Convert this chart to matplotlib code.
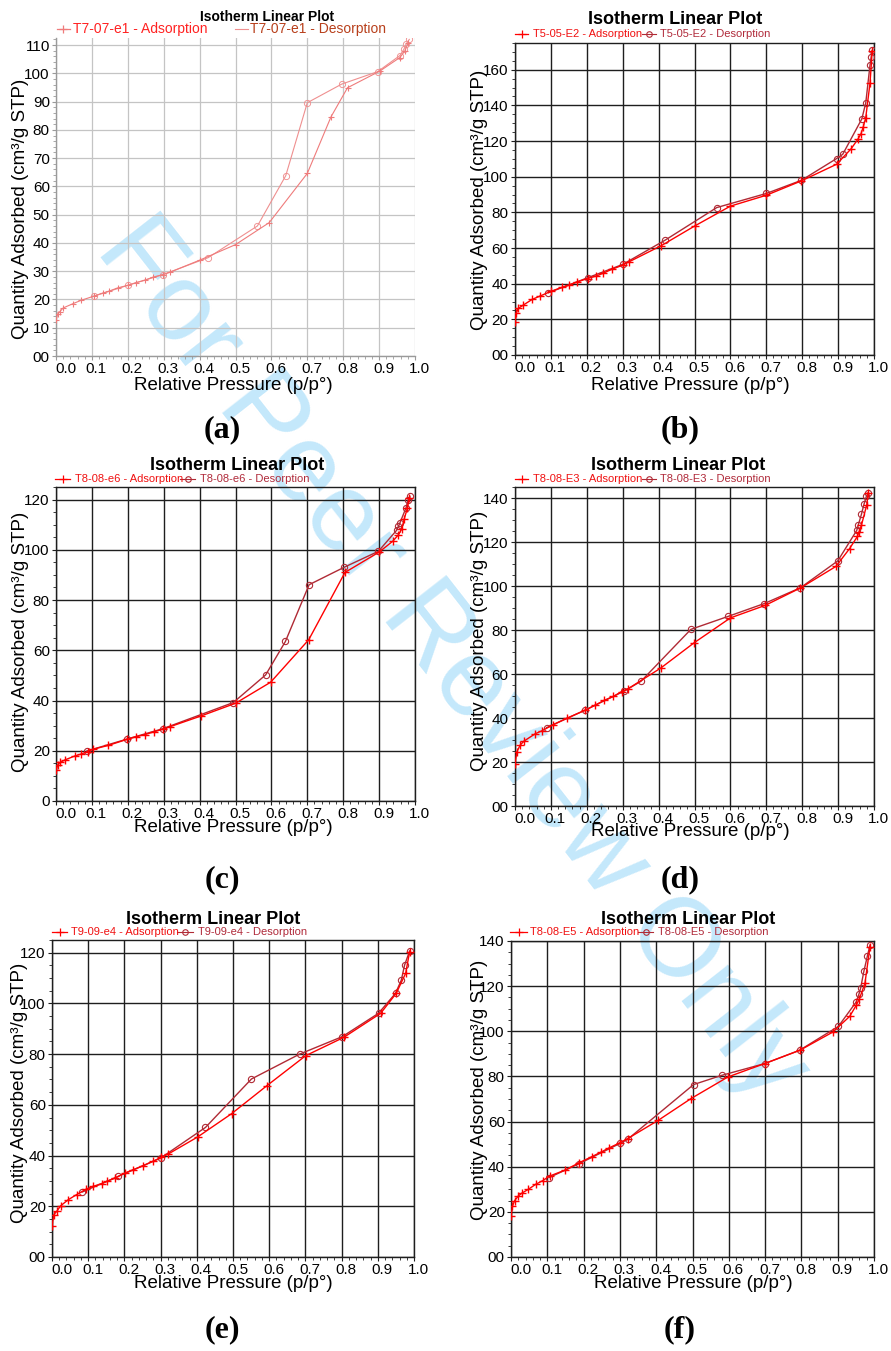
import matplotlib.pyplot as plt
import matplotlib.transforms as mtransforms
from matplotlib.lines import Line2D
from matplotlib.ticker import MultipleLocator

plt.rcParams['font.family'] = ['Liberation Sans', 'DejaVu Sans']

# ---- isotherm data (p/p0 , cm3/g STP) ----
# (a) T7-07-e1
a_ads_p = [0.0, 0.005, 0.01, 0.02, 0.047, 0.07, 0.106, 0.131, 0.149, 0.172, 0.2, 0.224, 0.247, 0.27,
           0.298, 0.317, 0.4, 0.5, 0.594, 0.7, 0.766, 0.812, 0.902, 0.958, 0.972, 0.981]
a_ads_q = [12.6, 15.0, 15.6, 17.0, 18.5, 19.7, 21.2, 22.3, 23.0, 24.1, 25.0, 26.0, 26.8, 27.9,
           28.8, 29.6, 33.9, 39.4, 47.2, 64.6, 84.6, 94.9, 100.8, 105.6, 108.0, 110.8]
a_des_p = [0.984, 0.975, 0.969, 0.958, 0.896, 0.796, 0.7, 0.64, 0.561, 0.424, 0.298, 0.2, 0.106]
a_des_q = [112.0, 110.3, 108.5, 106.3, 100.6, 96.2, 89.6, 63.8, 46.0, 34.8, 28.8, 25.0, 21.2]

# (b) T5-05-E2
b_ads_p = [0.0, 0.003, 0.009, 0.023, 0.048, 0.069, 0.1, 0.13, 0.151, 0.172, 0.202, 0.225, 0.246, 0.269,
           0.3, 0.318, 0.408, 0.5, 0.6, 0.7, 0.797, 0.896, 0.936, 0.955, 0.964, 0.97, 0.977, 0.989, 0.995]
b_ads_q = [18.5, 23.3, 26.1, 28.0, 31.2, 33.0, 35.7, 37.9, 39.2, 40.9, 42.9, 44.2, 45.9, 48.0,
           50.4, 52.3, 61.4, 72.3, 83.5, 89.6, 97.6, 107.0, 115.6, 121.0, 124.2, 127.9, 133.1, 152.7, 170.5]
b_des_p = [0.995, 0.992, 0.989, 0.977, 0.966, 0.913, 0.896, 0.798, 0.7, 0.562, 0.418, 0.3, 0.202, 0.093]
b_des_q = [170.8, 167.1, 162.8, 141.3, 132.4, 112.6, 110.2, 98.0, 90.6, 82.7, 64.4, 50.8, 43.3, 34.9]

# (c) T8-08-e6
c_ads_p = [0.0, 0.005, 0.012, 0.024, 0.052, 0.07, 0.089, 0.103, 0.145, 0.199, 0.224, 0.247, 0.272, 0.298,
           0.318, 0.405, 0.5, 0.598, 0.704, 0.805, 0.9, 0.938, 0.954, 0.963, 0.97, 0.979, 0.984]
c_ads_q = [12.4, 14.4, 15.4, 16.3, 17.9, 18.7, 19.7, 20.6, 22.1, 24.6, 25.6, 26.4, 27.5, 28.6,
           29.6, 33.9, 38.9, 47.3, 64.2, 91.0, 99.1, 103.4, 106.0, 108.3, 112.3, 116.7, 120.7]
c_des_p = [0.986, 0.981, 0.975, 0.958, 0.954, 0.949, 0.898, 0.802, 0.705, 0.639, 0.584, 0.494, 0.298, 0.199, 0.086]
c_des_q = [121.3, 120.0, 116.7, 110.7, 109.4, 107.8, 99.4, 93.0, 86.1, 63.5, 50.2, 39.2, 28.8, 24.7, 19.9]

# (d) T8-08-E3
d_ads_p = [0.0, 0.005, 0.014, 0.025, 0.057, 0.074, 0.107, 0.146, 0.195, 0.223, 0.248, 0.274, 0.297,
           0.315, 0.406, 0.499, 0.6, 0.697, 0.795, 0.894, 0.932, 0.954, 0.958, 0.965, 0.98, 0.984]
d_ads_q = [19.2, 24.5, 27.6, 29.5, 32.9, 34.1, 37.0, 40.0, 43.5, 45.8, 48.0, 49.8, 52.0,
           53.3, 62.7, 74.2, 85.5, 91.2, 99.1, 108.9, 117.0, 122.6, 124.5, 127.6, 137.0, 142.3]
d_des_p = [0.984, 0.979, 0.972, 0.965, 0.956, 0.952, 0.899, 0.795, 0.694, 0.594, 0.49, 0.351, 0.305, 0.194, 0.088]
d_des_q = [142.4, 140.8, 137.1, 132.6, 127.6, 125.3, 111.4, 99.2, 92.0, 86.2, 80.3, 56.7, 52.3, 43.5, 35.6]

# (e) T9-09-e4
e_ads_p = [0.0, 0.005, 0.013, 0.024, 0.045, 0.068, 0.095, 0.112, 0.137, 0.151, 0.174, 0.201, 0.224,
           0.252, 0.278, 0.302, 0.321, 0.402, 0.496, 0.594, 0.701, 0.806, 0.908, 0.951, 0.977, 0.988]
e_ads_q = [12.1, 16.7, 18.0, 20.2, 22.6, 24.6, 26.8, 27.8, 28.9, 29.8, 31.1, 33.1, 34.4,
           36.0, 37.7, 39.3, 40.6, 47.3, 56.5, 67.6, 79.4, 86.6, 96.1, 104.0, 111.9, 120.4]
e_des_p = [0.988, 0.974, 0.965, 0.949, 0.902, 0.802, 0.684, 0.551, 0.424, 0.3, 0.183, 0.083]
e_des_q = [120.7, 115.1, 109.2, 104.0, 96.1, 86.9, 80.0, 70.2, 51.1, 39.0, 31.8, 25.6]

# (f) T8-08-E5
f_ads_p = [0.0, 0.004, 0.01, 0.02, 0.029, 0.048, 0.068, 0.087, 0.107, 0.149, 0.188, 0.222, 0.247, 0.271,
           0.3, 0.322, 0.406, 0.496, 0.598, 0.699, 0.796, 0.887, 0.933, 0.951, 0.96, 0.975, 0.989]
f_ads_q = [18.0, 22.5, 25.0, 27.0, 28.2, 30.0, 32.2, 33.8, 35.9, 38.5, 41.8, 44.4, 46.4, 48.4,
           50.6, 52.5, 60.6, 70.2, 79.8, 85.7, 91.6, 99.7, 106.6, 111.5, 114.5, 121.2, 137.5]
f_des_p = [0.989, 0.982, 0.972, 0.963, 0.959, 0.951, 0.902, 0.795, 0.699, 0.581, 0.503, 0.321, 0.3, 0.186, 0.105]
f_des_q = [138.2, 133.5, 126.5, 119.0, 116.7, 113.0, 102.2, 91.6, 85.7, 80.5, 76.4, 52.1, 50.3, 41.2, 35.2]

sample_names = ['T7-07-e1', 'T5-05-E2', 'T8-08-e6', 'T8-08-E3', 'T9-09-e4', 'T8-08-E5']
panel_tags = ['(a)', '(b)', '(c)', '(d)', '(e)', '(f)']
y_tops = [112.5, 175, 125, 145, 125, 140]
y_steps = [10, 20, 20, 20, 20, 20]
series = [(a_ads_p, a_ads_q, a_des_p, a_des_q), (b_ads_p, b_ads_q, b_des_p, b_des_q),
          (c_ads_p, c_ads_q, c_des_p, c_des_q), (d_ads_p, d_ads_q, d_des_p, d_des_q),
          (e_ads_p, e_ads_q, e_des_p, e_des_q), (f_ads_p, f_ads_q, f_des_p, f_des_q)]

# ---- layout (pixel positions in the 891x1351 picture) ----
W, H = 891, 1351
boxes = [(56, 38, 415, 356), (515, 43, 874, 355), (56, 487, 415, 801),
         (515, 487, 874, 806), (52, 940, 414, 1257), (511, 941, 874, 1257)]
title_pos = [(267, 17, 10), (675, 20, 13), (237, 466, 13), (678, 466, 13), (213, 920, 13), (688, 919, 13)]
legend_pos = [(57, 70, 73, 235, 248, 250, 29, 10), (515, 528, 533, 642, 656, 660, 34, 8),
              (55, 70, 75, 180, 195, 200, 479, 8), (515, 528, 533, 642, 656, 660, 479, 8),
              (52, 67, 71, 177, 193, 198, 932, 8), (510, 527, 530, 638, 653, 658, 932, 8)]
xlabel_pos = [(233, 385), (690, 385), (233, 828), (690, 832), (233, 1283), (693, 1283)]
ylabel_pos = [(21, 209), (480, 200), (21, 642), (480, 641), (20, 1093), (479, 1090)]
tag_pos = [(222, 430), (680, 430), (222, 880), (680, 880), (222, 1330), (680, 1330)]

fig = plt.figure(figsize=(W / 100, H / 100), dpi=100)
fig.patch.set_facecolor('white')


def fx(px):
    return px / W


def fy(py):
    return 1 - py / H


def legend_item(x0, x1, y, color, marker, lw, ms):
    fig.add_artist(Line2D([fx(x0), fx(x1)], [fy(y), fy(y)], transform=fig.transFigure,
                          color=color, lw=lw))
    fig.add_artist(Line2D([fx((x0 + x1) / 2)], [fy(y)], transform=fig.transFigure, color=color,
                          marker=marker, ms=ms, mew=lw, mfc='none', ls='none'))


# watermark behind everything
fig.text(fx(452), fy(660), 'For Peer Review Only', rotation=-52, fontsize=80, color='#c4e8fb',
         ha='center', va='center', rotation_mode='anchor', zorder=-5)

for i in range(6):
    l, t, r, b = boxes[i]
    ax = fig.add_axes([fx(l), fy(b), (r - l) / W, (b - t) / H])
    ax.set_facecolor('none')
    ads_p, ads_q, des_p, des_q = series[i]
    faded = i == 0

    if faded:
        ads_c, des_c, lw = '#ef7b7b', '#ef8f8f', 0.8
        grid_c, spine_c = '#c4c4c4', '#9a9a9a'
        txt_ads, txt_des = '#ff2222', '#b8401c'
    else:
        ads_c, des_c, lw = '#ff0000', '#b02a35', 1.0
        grid_c, spine_c = '#1e1e1e', '#1e1e1e'
        txt_ads, txt_des = '#f01010', '#b02a3a'

    ax.plot(ads_p, ads_q, color=ads_c, lw=lw, marker='+', ms=6 if not faded else 5,
            mew=lw, zorder=4)
    ax.plot(des_p, des_q, color=des_c, lw=lw, marker='o', ms=4.5, mfc='none',
            mew=lw * 0.8, zorder=3)

    ax.set_xlim(0, 1.0)
    ax.set_ylim(0, y_tops[i])
    step = y_steps[i]
    yt = list(range(0, int(y_tops[i]) + 1, step))
    ylabels = [str(v) for v in yt]
    ylabels[0] = '0' if i == 2 else '00'
    ax.set_yticks(yt, ylabels)
    xt = [k / 10 for k in range(11)]
    ax.set_xticks(xt, ['%.1f' % v for v in xt])
    ax.xaxis.set_minor_locator(MultipleLocator(0.02))
    ax.yaxis.set_minor_locator(MultipleLocator(2 if faded else 5))
    ax.grid(True, which='major', color=grid_c, lw=1.0 if not faded else 0.9)
    ax.set_axisbelow(True)

    for side in ['left', 'bottom', 'right', 'top']:
        ax.spines[side].set_color(spine_c)
        ax.spines[side].set_linewidth(1.0)
    if faded:
        ax.spines['top'].set_visible(False)
        ax.spines['right'].set_visible(False)
    ax.tick_params(axis='both', which='major', length=3, width=0.8, color=spine_c,
                   labelsize=11, pad=1.5, top=False, right=False)
    ax.tick_params(axis='both', which='minor', length=2, width=0.6, color=spine_c,
                   top=False, right=False)

    # nudge x tick labels to the right like the instrument software does
    for k, lab in enumerate(ax.get_xticklabels()):
        dx = 10 if k == 0 else 4.5
        lab.set_transform(lab.get_transform() +
                          mtransforms.ScaledTranslation(dx / 100, 0, fig.dpi_scale_trans))

    tx, ty, tfs = title_pos[i]
    fig.text(fx(tx), fy(ty), 'Isotherm Linear Plot', ha='center', va='center',
             fontsize=tfs, fontweight='bold')

    h0, h1, tx0, g0, g1, tx1, ly, lfs = legend_pos[i]
    legend_item(h0, h1, ly, ads_c, '+', 0.9, 6)
    fig.text(fx(tx0), fy(ly), sample_names[i] + ' - Adsorption', ha='left', va='center',
             fontsize=lfs, color=txt_ads)
    if faded:
        fig.add_artist(Line2D([fx(g0), fx(g1)], [fy(ly), fy(ly)], transform=fig.transFigure,
                              color=des_c, lw=0.8))
    else:
        legend_item(g0, g1, ly, des_c, 'o', 0.8, 4)
    fig.text(fx(tx1), fy(ly), sample_names[i] + ' - Desorption', ha='left', va='center',
             fontsize=lfs, color=txt_des)

    xl, yl = xlabel_pos[i]
    fig.text(fx(xl), fy(yl), 'Relative Pressure (p/p°)', ha='center', va='center', fontsize=13.5)
    xl, yl = ylabel_pos[i]
    fig.text(fx(xl), fy(yl), 'Quantity Adsorbed (cm³/g STP)', ha='center', va='center',
             fontsize=13.5, rotation=90)

    xl, yl = tag_pos[i]
    fig.text(fx(xl), fy(yl), panel_tags[i], ha='center', va='center', fontsize=23,
             fontweight='bold', family=['Liberation Serif', 'DejaVu Serif'])

fig.savefig('out.png', dpi=100, facecolor='white')
